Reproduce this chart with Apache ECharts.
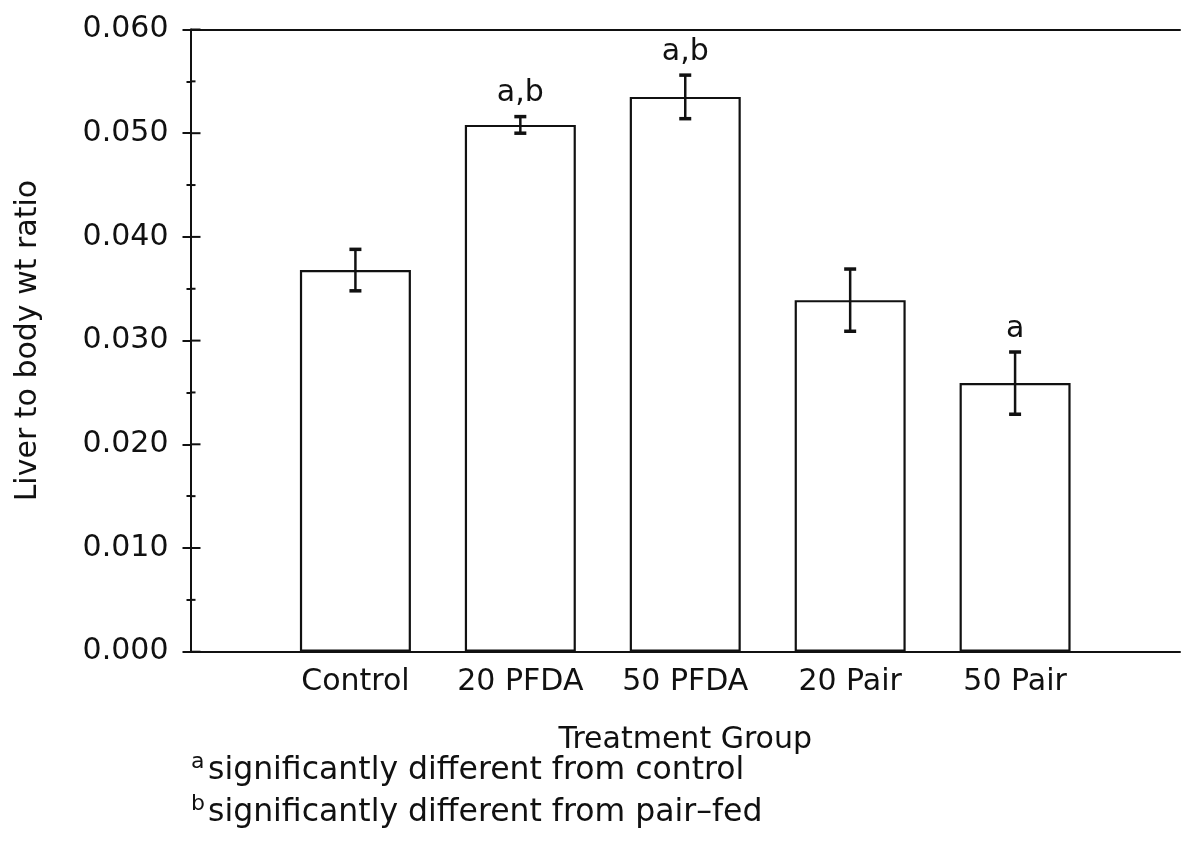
<!DOCTYPE html>
<html>
<head>
<meta charset="utf-8">
<script src="https://cdn.jsdelivr.net/npm/echarts@6/dist/echarts.min.js"></script>
<style>
html,body{margin:0;padding:0;background:#fff;}
#chart{width:1183px;height:842px;}
</style>
</head>
<body>
<div id="chart"></div>
<script>
// ---- data ----
const categories = ['Control', '20 PFDA', '50 PFDA', '20 Pair', '50 Pair'];
const means = [0.0368, 0.0508, 0.0535, 0.0339, 0.0259];
const errors = [0.0020, 0.0008, 0.0021, 0.0030, 0.0030];
const sigLabels = ['', 'a,b', 'a,b', '', 'a'];
const yTicks = [0, 0.01, 0.02, 0.03, 0.04, 0.05, 0.06];
const yMinorTicks = [0.005, 0.015, 0.025, 0.035, 0.045, 0.055];
const footnotes = [
  { mark: 'a', text: 'significantly different from control' },
  { mark: 'b', text: 'significantly different from pair\u2013fed' }
];

const INK = '#111';
const FONT = '"DejaVu Sans", sans-serif';

const chart = echarts.init(document.getElementById('chart'), null, { renderer: 'canvas' });

const footnoteGraphics = footnotes.flatMap((f, i) => [
  {
    type: 'text', x: 191, y: 762 + i * 42,
    style: { text: f.mark, font: '22px ' + FONT, fill: INK, align: 'left', verticalAlign: 'middle' }
  },
  {
    type: 'text', x: 208, y: 771 + i * 42,
    style: { text: f.text, font: '31.5px ' + FONT, fill: INK, align: 'left', verticalAlign: 'middle' }
  }
]);

const option = {
  backgroundColor: '#fff',
  animation: false,
  grid: { left: 190.5, top: 29.5, width: 999, height: 622.2, containLabel: false },
  xAxis: [
    {
      type: 'value', min: 0, max: 6, interval: 1, position: 'bottom',
      axisLine: { show: true, lineStyle: { color: INK, width: 2 } },
      axisTick: { show: false },
      splitLine: { show: false },
      axisLabel: {
        color: INK, fontFamily: FONT, fontSize: 30, margin: 16,
        formatter: v => categories[Math.round(v) - 1] || ''
      },
      name: 'Treatment Group', nameLocation: 'middle', nameGap: 74,
      nameTextStyle: { color: INK, fontFamily: FONT, fontSize: 30 }
    },
    {
      type: 'value', min: 0, max: 6, position: 'top',
      axisLine: { show: true, lineStyle: { color: INK, width: 2 } },
      axisTick: { show: false }, axisLabel: { show: false }, splitLine: { show: false }
    }
  ],
  yAxis: {
    type: 'value',
    min: yTicks[0],
    max: yTicks[yTicks.length - 1],
    interval: 0.01,
    position: 'left',
    splitLine: { show: false },
    axisLine: { show: true, lineStyle: { color: INK, width: 2 } },
    axisTick: { show: true, inside: false, length: 8, lineStyle: { color: INK, width: 2 } },
    minorTick: { show: true, splitNumber: 2, length: 4, lineStyle: { color: INK, width: 2 } },
    axisLabel: {
      color: INK, fontFamily: FONT, fontSize: 30, margin: 22,
      formatter: v => v.toFixed(3)
    },
    name: 'Liver to body wt ratio', nameLocation: 'middle', nameGap: 147, nameRotate: 90,
    nameTextStyle: { color: INK, fontFamily: FONT, fontSize: 30 }
  },
  series: [
    {
      type: 'bar',
      xAxisIndex: 0, yAxisIndex: 0,
      barWidth: 111,
      data: means.map((m, i) => [i + 1, m]),
      itemStyle: { color: '#fff', borderColor: INK, borderWidth: 2.2 },
      silent: true
    },
    {
      // error bars with significance letters
      type: 'custom',
      xAxisIndex: 0, yAxisIndex: 0,
      data: means.map((m, i) => [i + 1, m - errors[i], m + errors[i], i]),
      encode: { x: 0, y: [1, 2] },
      renderItem: function (params, api) {
        const x = api.value(0);
        const lo = api.coord([x, api.value(1)]);
        const hi = api.coord([x, api.value(2)]);
        const cx = lo[0];
        const half = 6;
        const idx = api.value(3);
        const children = [
          { type: 'line', shape: { x1: cx, y1: lo[1], x2: cx, y2: hi[1] }, style: { stroke: INK, lineWidth: 2.5 } },
          { type: 'line', shape: { x1: cx - half, y1: hi[1], x2: cx + half, y2: hi[1] }, style: { stroke: INK, lineWidth: 3.5 } },
          { type: 'line', shape: { x1: cx - half, y1: lo[1], x2: cx + half, y2: lo[1] }, style: { stroke: INK, lineWidth: 3.5 } }
        ];
        const lab = sigLabels[idx];
        if (lab) {
          children.push({
            type: 'text',
            x: cx, y: hi[1] - 8,
            style: { text: lab, font: '30px ' + FONT, fill: INK, align: 'center', verticalAlign: 'bottom' }
          });
        }
        return { type: 'group', children: children };
      },
      silent: true,
      z: 5
    }
  ],
  graphic: { elements: footnoteGraphics }
};

chart.setOption(option);

// inward half of the crossing y-axis ticks, positioned through the y scale after layout
const axisX = chart.getModel().getComponent('grid', 0).coordinateSystem.getRect().x;
const tickGraphics = yTicks.map(v => [v, 10]).concat(yMinorTicks.map(v => [v, 5])).map(([v, len]) => {
  const py = chart.convertToPixel({ yAxisIndex: 0 }, v);
  return {
    type: 'line', z: 100,
    shape: { x1: axisX, y1: py, x2: axisX + len, y2: py },
    style: { stroke: INK, lineWidth: 2 }
  };
});
chart.setOption({ graphic: { elements: footnoteGraphics.concat(tickGraphics) } }, { replaceMerge: ['graphic'] });
</script>
</body>
</html>
